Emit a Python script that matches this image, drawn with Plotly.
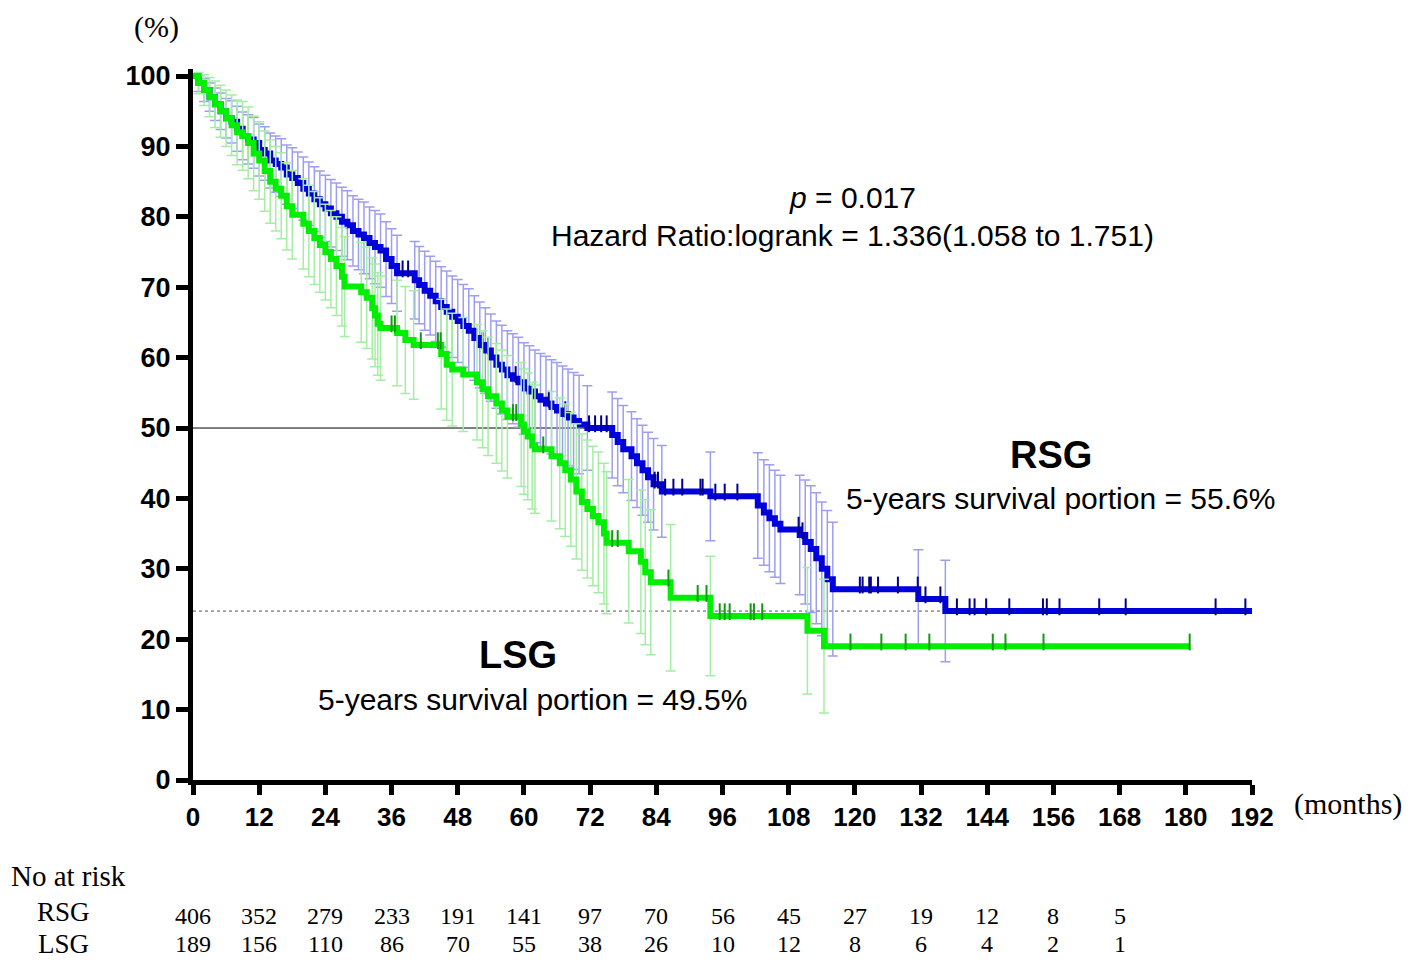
import numpy as np
import plotly.graph_objects as go

# ---------------- data ----------------
rsg_t = [0, 1, 2, 3, 4, 5, 6, 7, 8, 9, 10, 11, 12, 13, 14, 15, 16, 17, 18, 19, 20,
         21, 22, 23, 24, 25, 26, 27, 28, 29, 30, 31, 32, 33, 34, 35, 36, 37,
         40.2, 41, 42, 43, 44, 45, 46, 47, 48, 49, 50, 51, 52, 53, 54, 55, 56, 57,
         58, 59, 60, 61, 62, 63, 64, 65, 66, 67, 68, 69, 70,
         71.5, 76, 77, 78, 79.5, 80.5, 81.5, 82.5, 83.5, 85,
         93.8, 102.4, 103.5, 104.5, 105.5, 106.5,
         110, 111, 112, 113, 114, 115, 116, 131.5, 136.4, 192]
rsg_s = [100, 99, 98, 97, 96, 95, 94, 93.5, 92.5, 91.5, 91, 90.5, 89.5, 89, 88, 87.5, 87, 86, 85.5, 84.8, 84,
         83.3, 82.5, 81.8, 81.2, 80.5, 80, 79.3, 78.8, 78, 77.5, 77, 76.3, 75.7, 75.2, 74, 73, 72,
         71, 70.3, 69.5, 68.8, 68, 67.2, 66.5, 65.8, 65.2, 64.5, 63.8, 62.8, 61.8, 61, 60, 59, 58.3, 57.5,
         57, 56.5, 55.6, 55.2, 54.5, 54, 53.5, 53, 52.5, 52, 51.5, 51, 50.5,
         50, 49, 48, 47, 46, 45, 44, 43, 42, 41,
         40.3, 39, 38, 37.2, 36.4, 35.6,
         34.8, 33.8, 32.8, 31.5, 30, 28.5, 27.1, 25.7, 24.0, 24.0]
rsg_err = [0, 1.2, 1.6, 2.0, 2.3, 2.6, 2.8, 3.0, 3.2, 3.4, 3.5,
           3.6, 3.7, 3.8, 3.9, 4.0, 4.1, 4.2, 4.3, 4.4, 4.5,
           4.5, 4.6, 4.7, 4.7, 4.8, 4.8, 4.9, 4.9, 5.0, 5.0,
           5.1, 5.1, 5.2, 5.2, 5.3, 5.3, 5.4,
           5.5, 5.5, 5.6, 5.6, 5.7, 5.7, 5.8, 5.8, 5.9, 5.9, 6.0, 6.0, 6.1, 6.1, 6.2, 6.2, 6.3, 6.3,
           6.4, 6.4, 6.5, 6.5, 6.6, 6.6, 6.7, 6.7, 6.8, 6.8, 6.9, 6.9, 7.0,
           6.0, 6.1, 6.2, 6.2, 6.3, 6.3, 6.4, 6.4, 6.5, 6.5,
           6.3, 7.5, 7.5, 7.6, 7.6, 7.7,
           8.5, 8.8, 9.0, 9.3, 9.5, 9.8, 9.5, 7.0, 7.2, 0]
rsg_cens = [38, 39, 52.5, 53.5, 58.5, 64.5, 67.5, 71.8, 72.9, 74.0, 75.0, 83.7, 84.3, 85.6, 87.1,
            88.7, 92.0, 92.4, 94.7, 96.4, 98.7, 109.8, 110.5, 120.9, 121.4, 122.6, 122.9,
            124.2, 127.8, 131.4, 132.8, 135.5, 138.5, 140.8, 141.7, 143.8, 148, 154.1,
            154.8, 157.1, 164.3, 169.1, 185.4, 190.8]

lsg_t = [0, 1, 2, 3, 4, 5, 6, 7, 8, 9, 10, 11, 12, 13, 14, 15, 16, 17, 18,
         20, 21, 22, 23, 24, 25, 26, 27, 27.5, 30.5, 31.5, 32.5, 33, 33.5, 34,
         37, 38.5, 40, 45, 46, 47, 49, 51.5, 52.5, 53.5, 55, 56, 57,
         59.5, 60, 60.7, 61.5, 62, 65, 66.5, 67.5, 68.5, 69.5, 70.5, 71.5, 72.5, 73.5, 74.5, 75,
         79, 81.2, 82, 83, 86.6, 93.8, 111.4, 114.4, 180.6]
lsg_s = [100, 99, 98, 97, 96, 95, 94, 93, 92, 91.5, 90.5, 89, 88, 86.5, 85, 84, 83, 81.5, 80.3,
         79, 78, 77, 76, 75, 74, 73, 71.5, 70.1, 69.3, 68.5, 67, 66, 64.8, 64.2,
         63.5, 62.5, 61.8, 60.5, 59, 58.3, 57.6, 56.5, 55.5, 54.5, 53.5, 52.5, 51.6,
         50.5, 49.5, 48.8, 47.5, 47, 46, 45, 44, 42.7, 41, 39.5, 38.5, 37.5, 36.6, 35, 33.7,
         32.5, 31, 29.5, 28.1, 25.9, 23.3, 21.2, 19.0, 19.0]
lsg_err = [0, 1.5, 2.2, 2.8, 3.3, 3.7, 4.0, 4.3, 4.6, 4.9, 5.1, 5.3, 5.5, 5.7, 5.9, 6.0, 6.1, 6.2, 6.3,
           6.4, 6.5, 6.6, 6.7, 6.8, 6.9, 7.0, 7.0, 7.1, 7.1, 7.2, 7.2, 7.3, 7.3, 7.4,
           7.5, 7.6, 7.7, 7.8, 7.9, 8.0, 8.1, 8.2, 8.3, 8.4, 8.5, 8.6, 8.7,
           8.8, 8.9, 9.0, 9.0, 9.1, 9.2, 9.3, 9.4, 9.5, 9.6, 9.7, 9.8, 9.9, 10.0, 10.0, 10.1,
           10.2, 10.2, 10.3, 10.3, 10.4, 8.5, 9.0, 9.5, 0]
lsg_cens = [36.0, 36.6, 41.3, 44.4, 44.9, 58.0, 58.6, 63.5, 76.0, 77.0, 86.2, 91.5, 93.1,
            95.5, 96.4, 97.3, 101.1, 101.7, 103.2, 119.2, 124.8, 129.2, 133.5, 145,
            147.3, 154.2, 180.7]

risk_months = [0, 12, 24, 36, 48, 60, 72, 84, 96, 108, 120, 132, 144, 156, 168]
rsg_risk = [406, 352, 279, 233, 191, 141, 97, 70, 56, 45, 27, 19, 12, 8, 5]
lsg_risk = [189, 156, 110, 86, 70, 55, 38, 26, 10, 12, 8, 6, 4, 2, 1]

x_ticks = list(range(0, 193, 12))
y_ticks = list(range(0, 101, 10))

X_MAX = 192
Y_MAX = 101

# ---------------- styles ----------------
BLUE = "#0000DD"
BLUE_BAR = "#9E9EF0"
BLUE_CENS = "#00008B"
GREEN = "#00EE00"
GREEN_BAR = "#A4EEA4"
GREEN_CENS = "#119911"
SANS = "Liberation Sans, Arial, sans-serif"
SERIF = "Liberation Serif, Times New Roman, serif"


def level_at(times, levels, t):
    idx = np.searchsorted(np.asarray(times), t, side="right") - 1
    return [levels[i] for i in idx]


fig = go.Figure()


def add_group(t, s, err, cens, col, barcol, censcol, name):
    fig.add_trace(go.Scatter(
        x=t[1:-1], y=s[1:-1], mode="markers",
        marker=dict(size=1, color="rgba(0,0,0,0)"),
        error_y=dict(type="data", symmetric=False, array=err[1:-1], arrayminus=err[1:-1],
                     color=barcol, thickness=1.5, width=5),
        hoverinfo="skip", showlegend=False))
    fig.add_trace(go.Scatter(
        x=t, y=s, mode="lines", line=dict(color=col, width=6, shape="hv"),
        name=name, showlegend=False))
    cy = np.array(level_at(t, s, cens)) + 0.6
    fig.add_trace(go.Scatter(
        x=cens, y=cy, mode="markers",
        marker=dict(symbol="line-ns", size=12, line=dict(color=censcol, width=2)),
        hoverinfo="skip", showlegend=False))


add_group(rsg_t, rsg_s, rsg_err, rsg_cens, BLUE, BLUE_BAR, BLUE_CENS, "RSG")
add_group(lsg_t, lsg_s, lsg_err, lsg_cens, GREEN, GREEN_BAR, GREEN_CENS, "LSG")

# reference lines
fig.add_shape(type="line", xref="x", yref="y", x0=0, x1=76, y0=50, y1=50,
              line=dict(color="black", width=1), layer="below")
fig.add_shape(type="line", xref="x", yref="y", x0=0, x1=142, y0=24, y1=24,
              line=dict(color="#555555", width=1, dash="dot"), layer="below")


def A(mx, py, text, size, family=SANS, xanchor="center"):
    # position given in axis units, converted to paper fraction so it is never hidden
    return dict(x=mx / X_MAX, y=py / Y_MAX, xref="paper", yref="paper", text=text,
                showarrow=False, xanchor=xanchor, yanchor="middle",
                font=dict(family=family, size=size, color="black"))


ann = [
    A(119.6, 82.7, "<i>p</i> = 0.017", 30),
    A(119.6, 77.4, "Hazard Ratio:logrank = 1.336(1.058 to 1.751)", 30),
    A(155.6, 46.2, "<b>RSG</b>", 38),
    A(157.2, 40.0, "5-years survival portion = 55.6%", 30),
    A(58.9, 17.7, "<b>LSG</b>", 38),
    A(61.6, 11.5, "5-years survival portion = 49.5%", 30),
    A(-6.7, 107.0, "(%)", 30, SERIF),
    A(209.4, -3.4, "(months)", 30, SERIF),
    A(-33.3, -13.6, "No at risk", 29, SERIF, "left"),
    A(-23.5, -18.75, "RSG", 27, SERIF),
    A(-23.5, -23.3, "LSG", 27, SERIF),
]
for m, a, b in zip(risk_months, rsg_risk, lsg_risk):
    ann.append(A(m, -19.3, str(a), 24, SERIF))
    ann.append(A(m, -23.3, str(b), 24, SERIF))

fig.update_layout(
    width=1402, height=953,
    margin=dict(l=185, r=158, t=61, b=181, pad=0),
    paper_bgcolor="white", plot_bgcolor="white",
    annotations=ann,
    xaxis=dict(range=[0, X_MAX], tickvals=x_ticks, ticktext=[str(v) for v in x_ticks],
               showgrid=False, zeroline=False, showline=True, linecolor="black", linewidth=5,
               ticks="outside", ticklen=10, tickwidth=5, tickcolor="black",
               tickfont=dict(family=SANS, size=26, color="black", weight="bold")),
    yaxis=dict(range=[0, Y_MAX], tickvals=y_ticks, ticktext=[str(v) for v in y_ticks],
               showgrid=False, zeroline=False, showline=True, linecolor="black", linewidth=5,
               ticks="outside", ticklen=12, tickwidth=5, tickcolor="black",
               tickfont=dict(family=SANS, size=27, color="black", weight="bold")),
)

fig.write_html("out.html")
